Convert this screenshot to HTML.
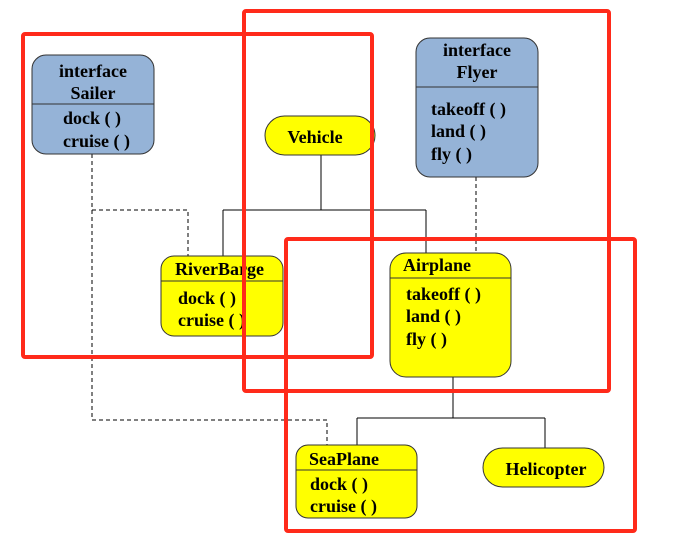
<!DOCTYPE html>
<html><head><style>html,body{margin:0;padding:0;background:#fff}svg{display:block}text{font-family:"Liberation Serif",serif;font-weight:bold;font-size:18px;fill:#000}</style></head>
<body>
<svg width="677" height="551" viewBox="0 0 677 551" xmlns="http://www.w3.org/2000/svg">
<g stroke="#000" stroke-width="1" fill="none">
<path d="M321 155V210M223 210H426M223 210V256M426 210V253"/>
<path d="M453 377V418M357 418H545M357 418V445M545 418V448"/>
<path stroke-dasharray="4,3" d="M92 154V420H327V445M92 210H188V256M476 177V253"/>
</g>
<g stroke="#333" stroke-width="1">
<rect x="32" y="55" width="122" height="99" rx="14" fill="#95b3d7"/>
<line x1="32" y1="104" x2="154" y2="104"/>
<rect x="416" y="38" width="122" height="139" rx="14" fill="#95b3d7"/>
<line x1="416" y1="87" x2="538" y2="87"/>
<rect x="265" y="116" width="110" height="39" rx="19.5" fill="#ffff00"/>
<rect x="161" y="256" width="122" height="80" rx="13" fill="#ffff00"/>
<line x1="161" y1="281" x2="283" y2="281"/>
<rect x="390" y="253" width="121" height="124" rx="16" fill="#ffff00"/>
<line x1="390" y1="278" x2="511" y2="278"/>
<rect x="296" y="445" width="121" height="73" rx="12" fill="#ffff00"/>
<line x1="296" y1="470" x2="417" y2="470"/>
<rect x="483" y="448" width="121" height="39" rx="19.5" fill="#ffff00"/>
</g>
<text x="93" y="77" text-anchor="middle">interface</text>
<text x="93" y="99" text-anchor="middle">Sailer</text>
<text x="63" y="124">dock ( )</text>
<text x="63" y="147">cruise ( )</text>
<text x="477" y="56" text-anchor="middle">interface</text>
<text x="477" y="78" text-anchor="middle">Flyer</text>
<text x="431" y="115">takeoff ( )</text>
<text x="431" y="137">land ( )</text>
<text x="431" y="160">fly ( )</text>
<text x="315" y="143" text-anchor="middle">Vehicle</text>
<text x="175" y="275">RiverBarge</text>
<text x="178" y="304">dock ( )</text>
<text x="178" y="326">cruise ( )</text>
<text x="403" y="271">Airplane</text>
<text x="406" y="300">takeoff ( )</text>
<text x="406" y="322">land ( )</text>
<text x="406" y="345">fly ( )</text>
<text x="309" y="465">SeaPlane</text>
<text x="310" y="490">dock ( )</text>
<text x="310" y="512">cruise ( )</text>
<text x="546" y="475" text-anchor="middle">Helicopter</text>
<g fill="none" stroke="#ff2a1a" stroke-width="4">
<rect x="23" y="34" width="349" height="323" rx="2"/>
<rect x="244" y="11" width="365" height="380" rx="2"/>
<rect x="286" y="239" width="349" height="292" rx="2"/>
</g>
</svg>
</body></html>
